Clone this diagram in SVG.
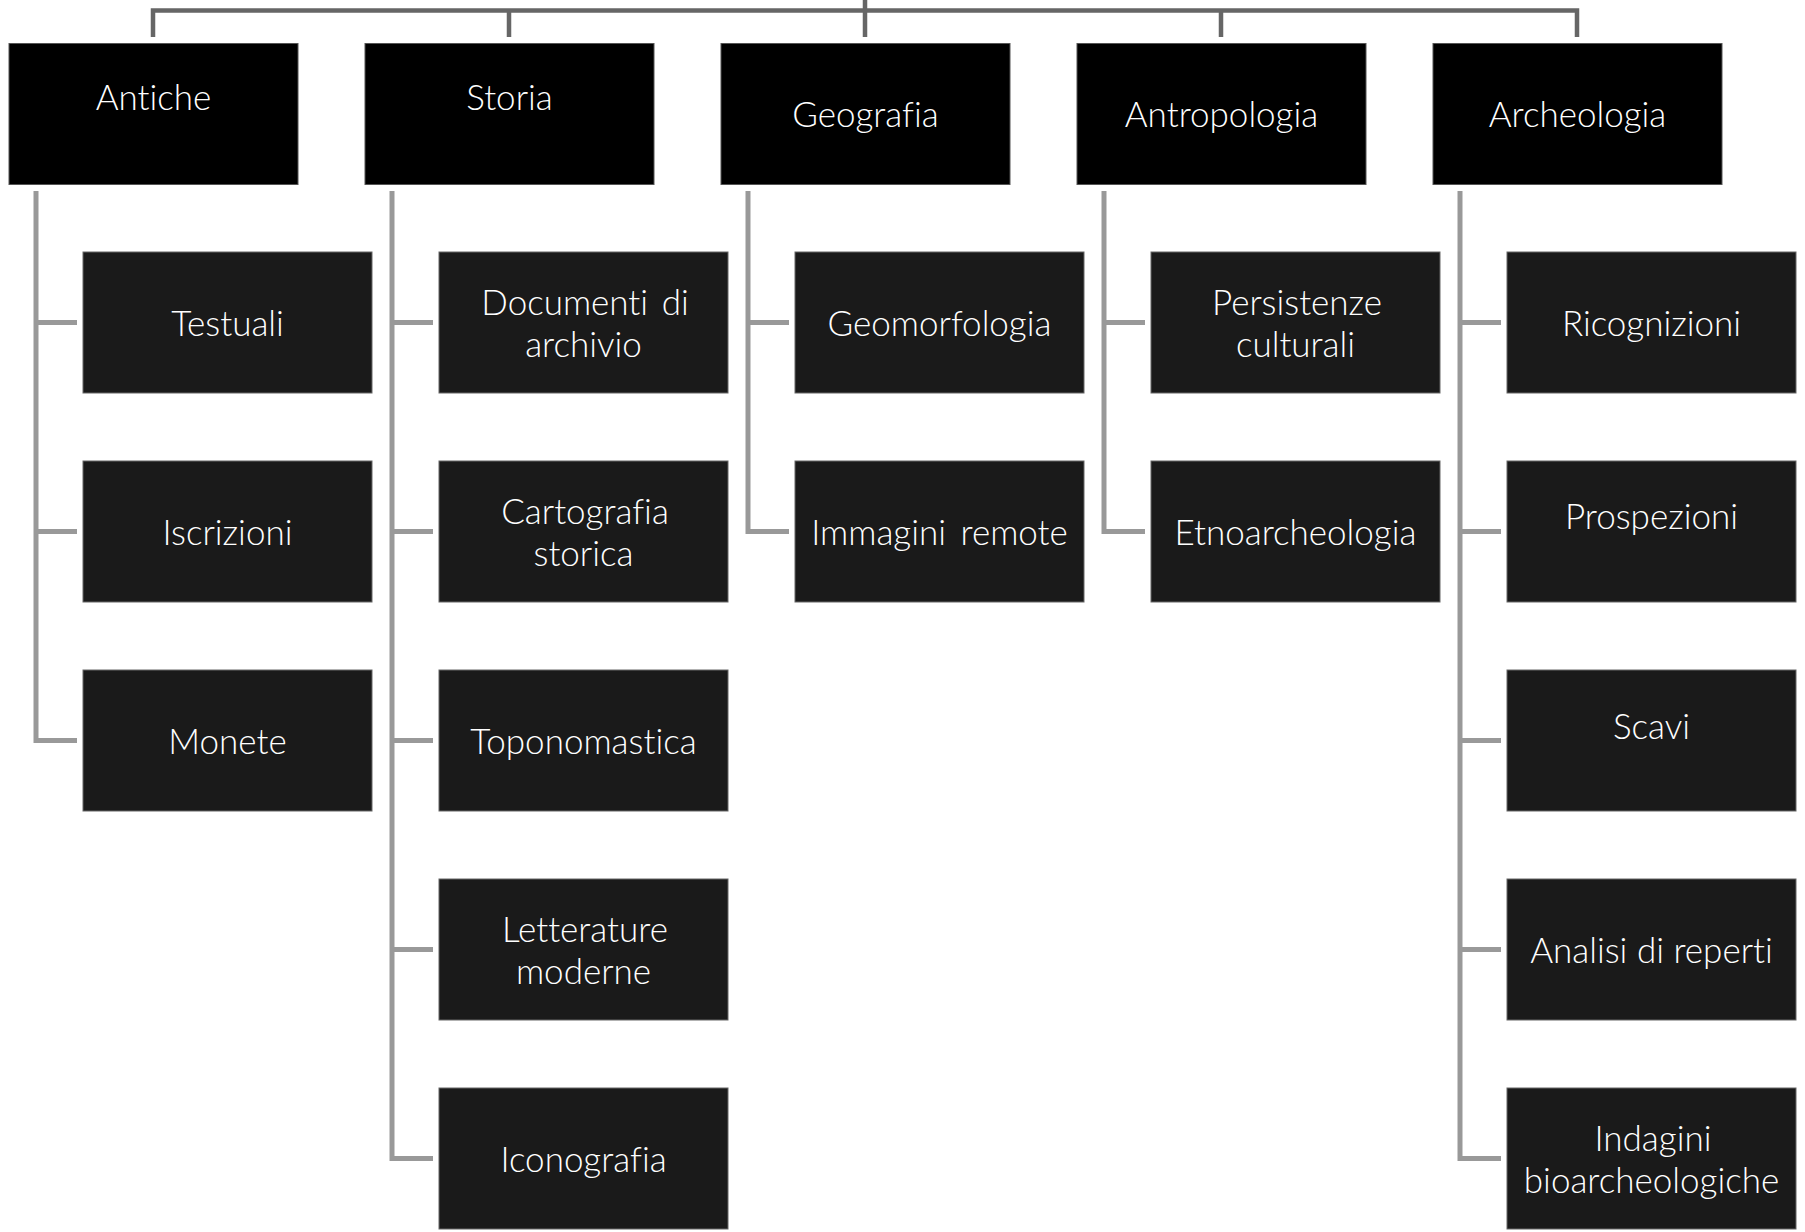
<svg xmlns="http://www.w3.org/2000/svg" width="1805" height="1232" viewBox="0 0 1805 1232">
<style>
.top{fill:#000;stroke:#555;stroke-width:1}
.child{fill:#1a1a1a;stroke:#666;stroke-width:1}
.t{font-family:Lato,"Open Sans","Liberation Sans",sans-serif;font-weight:300;font-size:35px;fill:#fff;text-anchor:middle;font-variant-ligatures:none;font-feature-settings:"liga" 0,"dlig" 0}
.bar{fill:none;stroke:#666;stroke-width:4.5}
.con{fill:none;stroke:#999;stroke-width:5}
</style>
<rect width="1805" height="1232" fill="#fff"/>
<g id="connectors">
<path class="bar" d="M153 37V10.5H1577V37M509 10.5V37M1221 10.5V37M865 0V37"/>
<path class="con" d="M36 191V740.5H77M36 322.5H77M36 531.5H77"/>
<path class="con" d="M392 191V1158.5H433M392 322.5H433M392 531.5H433M392 740.5H433M392 949.5H433"/>
<path class="con" d="M748 191V531.5H789M748 322.5H789"/>
<path class="con" d="M1104 191V531.5H1145M1104 322.5H1145"/>
<path class="con" d="M1460 191V1158.5H1501M1460 322.5H1501M1460 531.5H1501M1460 740.5H1501M1460 949.5H1501"/>
</g>
<g id="antiche"><rect class="top" x="9" y="43.5" width="289" height="141"/><text class="t" x="153.5" y="110">Antiche</text></g>
<g id="storia"><rect class="top" x="365" y="43.5" width="289" height="141"/><text class="t" x="509.5" y="110">Storia</text></g>
<g id="geografia"><rect class="top" x="721" y="43.5" width="289" height="141"/><text class="t" x="865.5" y="127">Geografia</text></g>
<g id="antropologia"><rect class="top" x="1077" y="43.5" width="289" height="141"/><text class="t" x="1221.5" y="127">Antropologia</text></g>
<g id="archeologia"><rect class="top" x="1433" y="43.5" width="289" height="141"/><text class="t" x="1577.5" y="127">Archeologia</text></g>

<g id="testuali"><rect class="child" x="83" y="252" width="289" height="141"/><text class="t" x="227.5" y="336">Testuali</text></g>
<g id="iscrizioni"><rect class="child" x="83" y="461" width="289" height="141"/><text class="t" x="227.5" y="545">Iscrizioni</text></g>
<g id="monete"><rect class="child" x="83" y="670" width="289" height="141"/><text class="t" x="227.5" y="754">Monete</text></g>

<g id="documenti"><rect class="child" x="439" y="252" width="289" height="141"/><text class="t" x="585" y="315" word-spacing="4">Documenti di</text><text class="t" x="583.5" y="357">archivio</text></g>
<g id="cartografia"><rect class="child" x="439" y="461" width="289" height="141"/><text class="t" x="585" y="524">Cartografia</text><text class="t" x="583.5" y="566">storica</text></g>
<g id="toponomastica"><rect class="child" x="439" y="670" width="289" height="141"/><text class="t" x="583.5" y="754">Toponomastica</text></g>
<g id="letterature"><rect class="child" x="439" y="879" width="289" height="141"/><text class="t" x="585" y="942">Letterature</text><text class="t" x="583.5" y="984">moderne</text></g>
<g id="iconografia"><rect class="child" x="439" y="1088" width="289" height="141"/><text class="t" x="583.5" y="1172">Iconografia</text></g>

<g id="geomorfologia"><rect class="child" x="795" y="252" width="289" height="141"/><text class="t" x="939.5" y="336">Geomorfologia</text></g>
<g id="immagini"><rect class="child" x="795" y="461" width="289" height="141"/><text class="t" x="939.5" y="545" word-spacing="5">Immagini remote</text></g>

<g id="persistenze"><rect class="child" x="1151" y="252" width="289" height="141"/><text class="t" x="1297" y="315">Persistenze</text><text class="t" x="1295.5" y="357">culturali</text></g>
<g id="etnoarcheologia"><rect class="child" x="1151" y="461" width="289" height="141"/><text class="t" x="1295.5" y="545">Etnoarcheologia</text></g>

<g id="ricognizioni"><rect class="child" x="1507" y="252" width="289" height="141"/><text class="t" x="1651.5" y="336">Ricognizioni</text></g>
<g id="prospezioni"><rect class="child" x="1507" y="461" width="289" height="141"/><text class="t" x="1651.5" y="529">Prospezioni</text></g>
<g id="scavi"><rect class="child" x="1507" y="670" width="289" height="141"/><text class="t" x="1651.5" y="739">Scavi</text></g>
<g id="analisi"><rect class="child" x="1507" y="879" width="289" height="141"/><text class="t" x="1651.5" y="963">Analisi di reperti</text></g>
<g id="indagini"><rect class="child" x="1507" y="1088" width="289" height="141"/><text class="t" x="1653" y="1151">Indagini</text><text class="t" x="1651.5" y="1193">bioarcheologiche</text></g>
</svg>
